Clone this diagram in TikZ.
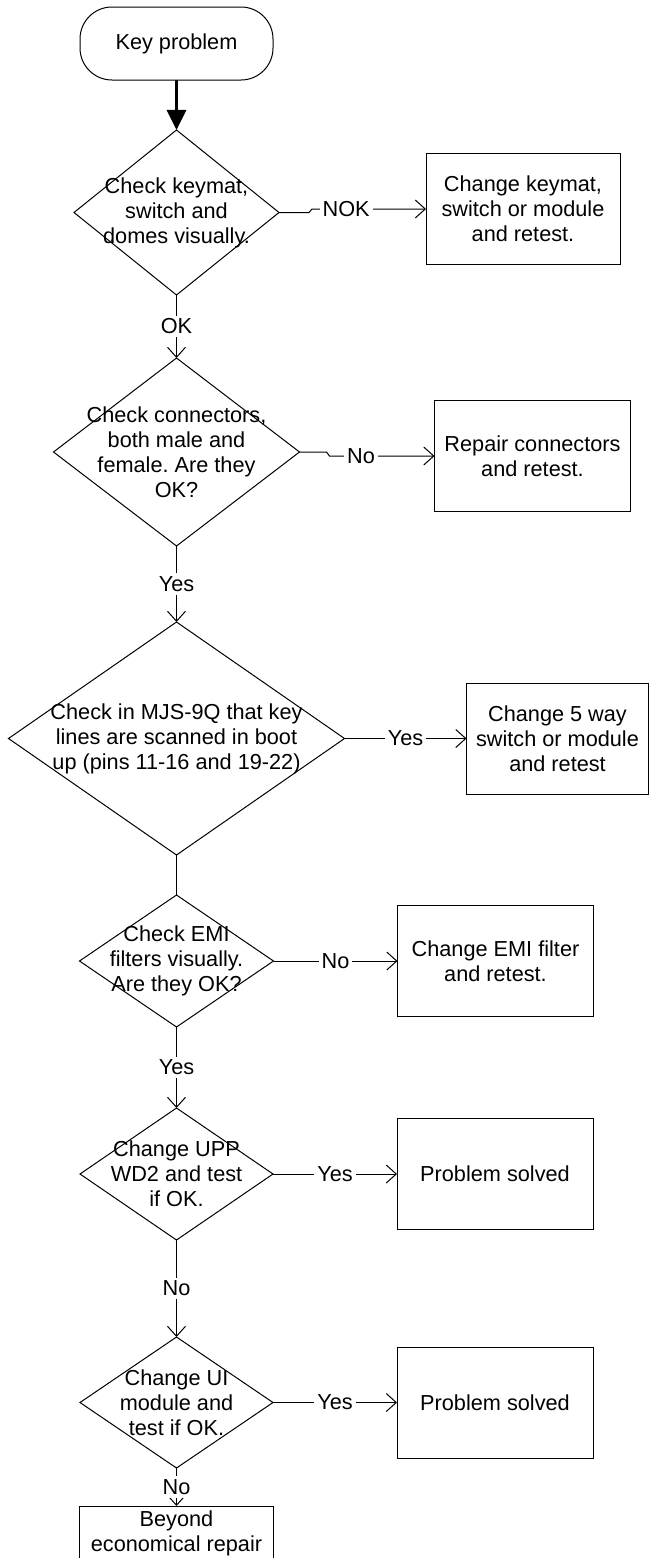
\documentclass[tikz,border=0pt]{standalone}
\usepackage{fontspec}
\setmainfont{Liberation Sans}
\usetikzlibrary{positioning, arrows.meta, shapes.geometric, calc}
\newcommand{\flowfont}{\fontsize{10.85pt}{12.5pt}\selectfont}
\frenchspacing

\begin{document}
\begin{tikzpicture}[
  >={Straight Barb[length=5pt, width=9pt]},
  line width=0.5pt,
  % --- Styles ---
  term/.style={
    rectangle, rounded corners=16pt, draw, minimum width=96.5pt,
    minimum height=36.5pt, inner sep=0pt, outer sep=0pt, font=\flowfont},
  decide/.style={
    diamond, draw, inner sep=0pt, outer sep=0pt},
  dtext/.style={align=center, inner sep=0pt, font=\flowfont},
  action/.style={
    rectangle, draw, minimum width=#1, minimum height=55.5pt,
    align=center, inner sep=1pt, outer sep=0pt, font=\flowfont},
  action/.default=98pt,
  lbl/.style={fill=white, inner sep=1.5pt, font=\flowfont},
]
\useasboundingbox (0,0) rectangle (325.5pt,-779pt);
% === NODES ===
% start
\node[term] (start) at (88.25pt,-21.75pt) {Key problem};
% 1. keymat
\node[decide, minimum width=102.5pt, minimum height=82.5pt, below=25pt of start,
      label={[dtext]center:{Check keymat,\\switch and\\domes visually.}}] (d1) {};
\node[action=97pt, right=73.5pt of d1, yshift=1.75pt] (b1) {Change keymat,\\switch or module\\and retest.};
% 2. connectors
\node[decide, minimum width=123pt, minimum height=94pt, below=31.5pt of d1,
      label={[dtext]center:{Check connectors,\\both male and\\female. Are they\\OK?}}] (d2) {};
\node[action, right=67.5pt of d2, yshift=-2pt] (b2) {Repair connectors\\and retest.};
% 3. MJS-9Q scan
\node[decide, minimum width=168pt, minimum height=116.5pt, below=38pt of d2,
      label={[dtext]center:{Check in MJS-9Q that key\\lines are scanned in boot\\up (pins 11-16 and 19-22)}}] (d3) {};
\node[action=91pt, right=61pt of d3] (b3) {Change 5 way\\switch or module\\and retest};
% 4. EMI filters
\node[decide, minimum width=97pt, minimum height=66pt, below=20pt of d3,
      label={[dtext]center:{Check EMI\\filters visually.\\Are they OK?}}] (d4) {};
\node[action, right=62pt of d4] (b4) {Change EMI filter\\and retest.};
% 5. UPP
\node[decide, minimum width=96.5pt, minimum height=66pt, below=40.5pt of d4,
      label={[dtext]center:{Change UPP\\WD2 and test\\if OK.}}] (d5) {};
\node[action, right=62pt of d5] (b5) {Problem solved};
% 6. UI module
\node[decide, minimum width=96.5pt, minimum height=65.5pt, below=48.5pt of d5,
      label={[dtext]center:{Change UI\\module and\\test if OK.}}] (d6) {};
\node[action, right=62pt of d6] (b6) {Problem solved};
% end
\node[action=97pt, minimum height=27pt, below=19pt of d6] (ber) {Beyond\\economical repair};
% === ARROWS ===
% Main vertical flow
\draw[-{Triangle[length=10pt, width=9.5pt]}, line width=1.5pt] (start) -- (d1);
\draw[->] (d1) -- node[lbl] {OK} (d2);
\draw[->] (d2) -- node[lbl] {Yes} (d3);
\draw (d3) -- (d4);
\draw[->] (d4) -- node[lbl] {Yes} (d5);
\draw[->] (d5) -- node[lbl] {No} (d6);
\draw[->] (d6) -- node[lbl] {No} (ber);
% Side branches
\draw[->] (d1.east) -- ++(15pt,0) coordinate (j1) -- ([xshift=1.5pt]j1 |- b1.west)
  -- node[lbl, pos=0.3] {NOK} (b1.west);
\draw[->] (d2.east) -- ++(13.5pt,0) coordinate (j2) -- ([xshift=1.5pt]j2 |- b2.west)
  -- node[lbl, pos=0.3] {No} (b2.west);
\draw[->] (d3.east) -- node[lbl] {Yes} (d3.east -| b3.west);
\draw[->] (d4.east) -- node[lbl] {No} (d4.east -| b4.west);
\draw[->] (d5.east) -- node[lbl] {Yes} (d5.east -| b5.west);
\draw[->] (d6.east) -- node[lbl] {Yes} (d6.east -| b6.west);
\end{tikzpicture}
\end{document}
